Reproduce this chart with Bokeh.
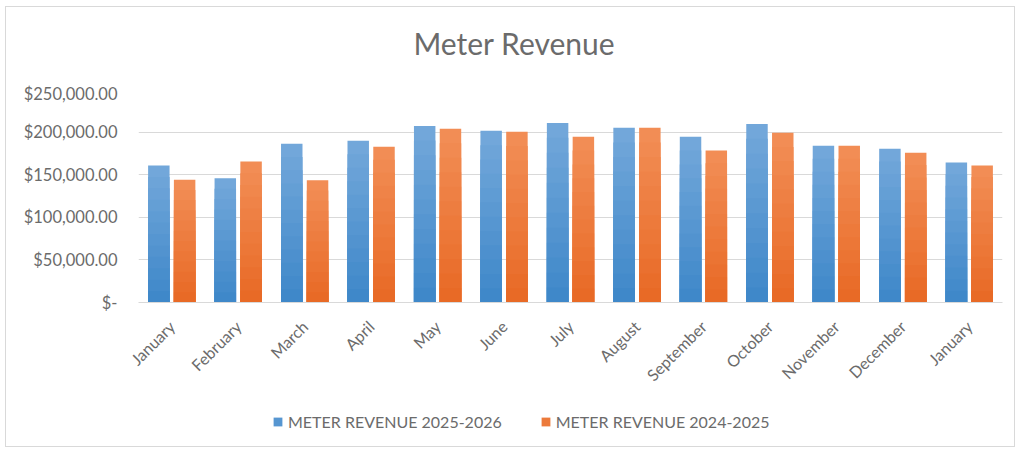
import math
from bokeh.plotting import figure
from bokeh.layouts import column
from bokeh.models import FixedTicker, Legend, LegendItem, Range1d, Label
from bokeh.embed import file_html
from bokeh.resources import INLINE

# ---- data ----
title_text = "Meter Revenue"
months = ["January", "February", "March", "April", "May", "June", "July",
          "August", "September", "October", "November", "December", "January"]
revenue_2025_2026 = [160800, 145700, 186400, 189900, 207300, 201500, 210800,
                     205000, 194500, 209600, 184100, 180600, 164300]
revenue_2024_2025 = [144200, 165500, 143400, 182900, 203800, 200300, 194500,
                     205000, 178300, 199200, 184100, 175900, 160800]
series_names = ["METER REVENUE 2025-2026", "METER REVENUE 2024-2025"]
y_ticks = [0, 50000, 100000, 150000, 200000, 250000]
y_tick_labels = ["$-", "$50,000.00", "$100,000.00", "$150,000.00",
                 "$200,000.00", "$250,000.00"]

FONT = "Lato"
TXT = "#6b6b6b"
GRID = "#d9d9d9"
W = 1008


def strip(height, xr, yr):
    f = figure(width=W, height=height, output_backend="svg", toolbar_location=None,
               x_range=xr, y_range=yr, x_axis_type=None, y_axis_type=None,
               min_border=0)
    f.outline_line_color = None
    f.background_fill_color = "white"
    f.border_fill_color = "white"
    f.xgrid.grid_line_color = None
    f.ygrid.grid_line_color = None
    return f


# ---- title strip ----
tt = strip(76, Range1d(0, 1), Range1d(0, 1))
tt.add_layout(Label(x=0.435, y=0.53, text=title_text, text_align="center",
                    text_baseline="middle", text_font=FONT, text_font_size="30px",
                    text_color=TXT))

# ---- main chart ----
p = figure(width=W, height=311, output_backend="svg", toolbar_location=None,
           x_range=Range1d(-0.5, len(months) - 0.5),
           y_range=Range1d(0, 250000),
           min_border_left=132, min_border_right=12,
           min_border_top=6, min_border_bottom=90)
p.outline_line_color = None
p.background_fill_color = "white"
p.border_fill_color = "white"

xs = list(range(len(months)))
off = 0.194
bw = 0.323
N = 12


def lerp(c1, c2, t):
    a = [int(c1[i:i + 2], 16) for i in (1, 3, 5)]
    b = [int(c2[i:i + 2], 16) for i in (1, 3, 5)]
    return "#%02x%02x%02x" % tuple(round(a[j] + (b[j] - a[j]) * t) for j in range(3))


BLUE_TOP, BLUE_BOT = "#72a7da", "#3f88c9"
ORNG_TOP, ORNG_BOT = "#f28d55", "#e86a26"


def gradient_bars(xpos, vals, ctop, cbot):
    for k in range(N):
        frac = (N - k) / N
        col = lerp(ctop, cbot, k / (N - 1))
        p.vbar(x=xpos, top=[v * frac for v in vals], bottom=0, width=bw,
               fill_color=col, line_color=None)


xb = [x - off for x in xs]
xo = [x + off for x in xs]
gradient_bars(xb, revenue_2025_2026, BLUE_TOP, BLUE_BOT)
gradient_bars(xo, revenue_2024_2025, ORNG_TOP, ORNG_BOT)

p.xgrid.grid_line_color = None
p.ygrid.grid_line_color = GRID
p.ygrid.grid_line_width = 1
p.yaxis.ticker = FixedTicker(ticks=y_ticks)
p.yaxis.major_label_overrides = {t: l for t, l in zip(y_ticks, y_tick_labels)}
p.yaxis.axis_line_color = None
p.yaxis.major_tick_line_color = None
p.yaxis.minor_tick_line_color = None
p.yaxis.major_label_standoff = 15
p.yaxis.major_label_text_font = FONT
p.yaxis.major_label_text_font_size = "16.5px"
p.yaxis.major_label_text_color = TXT

p.xaxis.ticker = FixedTicker(ticks=xs)
p.xaxis.major_label_overrides = {i: m for i, m in enumerate(months)}
p.xaxis.major_label_orientation = math.pi / 4
p.xaxis.axis_line_color = GRID
p.xaxis.major_tick_line_color = None
p.xaxis.minor_tick_line_color = None
p.xaxis.major_label_standoff = 15
p.xaxis.major_label_text_font = FONT
p.xaxis.major_label_text_font_size = "16px"
p.xaxis.major_label_text_color = TXT

# ---- legend strip (zero-width copies of the series, out of view; only the legend shows) ----
lg = strip(52, Range1d(-0.5, len(months) - 0.5), Range1d(-1000000, -900000))
r1 = lg.vbar(x=xb, top=revenue_2025_2026, width=0,
             fill_color=lerp(BLUE_TOP, BLUE_BOT, 0.55), line_color=None)
r2 = lg.vbar(x=xo, top=revenue_2024_2025, width=0,
             fill_color=lerp(ORNG_TOP, ORNG_BOT, 0.55), line_color=None)
legend = Legend(items=[LegendItem(label=series_names[0], renderers=[r1]),
                       LegendItem(label=series_names[1], renderers=[r2])],
                orientation="horizontal", location=(134, 15),
                glyph_width=11, glyph_height=11, label_standoff=5, spacing=38,
                padding=0, margin=0, border_line_color=None,
                background_fill_alpha=0,
                label_text_font=FONT, label_text_font_size="16px",
                label_text_color=TXT)
lg.add_layout(legend, "center")

layout = column(tt, p, lg, spacing=0)
layout.styles = {"border": "1px solid #d9d9d9", "margin-left": "5px", "margin-top": "6px"}

open("out.html", "w").write(file_html(layout, INLINE))
